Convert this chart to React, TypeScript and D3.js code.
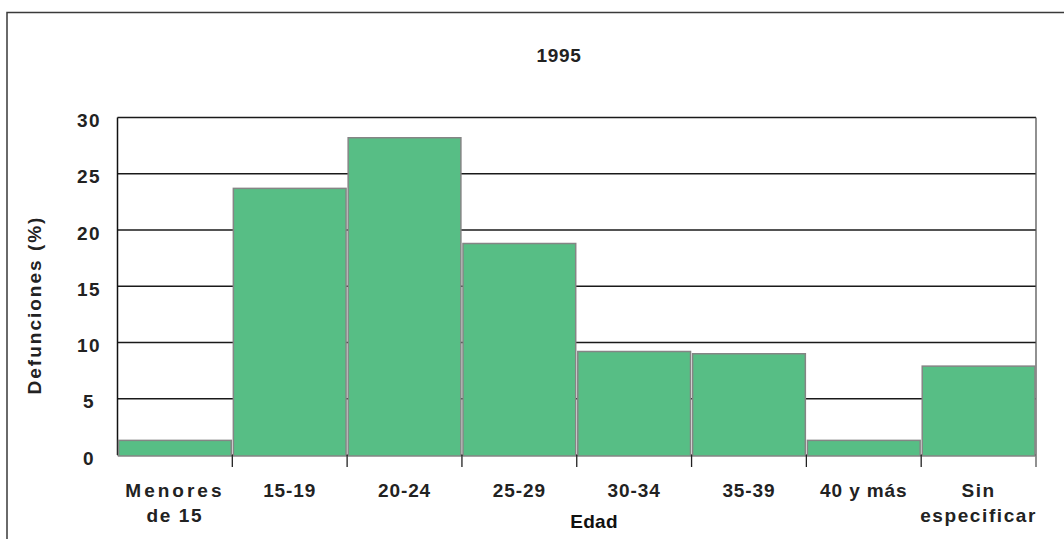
import React from "react";
import * as d3 from "d3";

const categories: string[][] = [
  ["Menores", "de 15"],
  ["15-19"],
  ["20-24"],
  ["25-29"],
  ["30-34"],
  ["35-39"],
  ["40 y más"],
  ["Sin", "especificar"],
];
const values: number[] = [1.3, 23.7, 28.2, 18.8, 9.2, 9.0, 1.3, 7.9];
const yTicks: number[] = [0, 5, 10, 15, 20, 25, 30];
const title = "1995";
const yTitle = "Defunciones  (%)";
const xTitle = "Edad";

const W = 1064;
const H = 539;
const plot = { left: 117.5, right: 1036, top: 117.5, bottom: 455 };
const FONT = "'Liberation Sans', Arial, Helvetica, sans-serif";
const FS = 19;

export default function App() {
  const idx = categories.map((_, i) => String(i));
  const x = d3
    .scaleBand<string>()
    .domain(idx)
    .range([plot.left, plot.right])
    .paddingInner(0.018)
    .paddingOuter(0.009);
  const step = (plot.right - plot.left) / categories.length;
  const y = d3.scaleLinear().domain([0, 30]).range([plot.bottom, plot.top]);

  const spacingFor = (ln: string) =>
    ln === "Menores" ? 3 : ln === "de 15" ? 1.6 : ln === "especificar" ? 1.6 : ln === "Sin" ? 1.5 : 0.9;

  return (
    <svg
      width={W}
      height={H}
      style={{ position: "absolute", left: 0, top: 0, background: "#fff" }}
      fontFamily={FONT}
    >
      <rect x={0} y={0} width={W} height={H} fill="#fff" />
      {/* outer border */}
      <rect x={7} y={12.5} width={W + 20} height={H + 20} fill="none" stroke="#3a3a3a" strokeWidth={1.5} />

      {/* title */}
      <text x={559} y={62} textAnchor="middle" fontSize={FS} fontWeight="bold" fill="#222" letterSpacing={0.7}>
        {title}
      </text>

      {/* gridlines */}
      {yTicks.map((t) => (
        <line key={"g" + t} x1={plot.left} x2={plot.right} y1={y(t)} y2={y(t)} stroke="#1a1a1a" strokeWidth={1.3} />
      ))}
      {/* plot frame */}
      <line x1={plot.left} x2={plot.left} y1={plot.top} y2={plot.bottom} stroke="#111" strokeWidth={1.5} />
      <line x1={plot.right} x2={plot.right} y1={plot.top} y2={plot.bottom + 12} stroke="#555" strokeWidth={1.3} />

      {/* bars */}
      {values.map((v, i) => (
        <rect
          key={"b" + i}
          x={x(String(i))!}
          y={y(v)}
          width={x.bandwidth()}
          height={y(0) - y(v) + 1}
          fill="#57BE85"
          stroke="#858585"
          strokeWidth={1.5}
        />
      ))}

      {/* x ticks at boundaries */}
      {d3.range(1, categories.length).map((i) => (
        <line
          key={"t" + i}
          x1={plot.left + step * i}
          x2={plot.left + step * i}
          y1={plot.bottom}
          y2={plot.bottom + 12}
          stroke="#222"
          strokeWidth={1.3}
        />
      ))}

      {/* y tick labels */}
      {yTicks.map((t) => (
        <text
          key={"yl" + t}
          x={89}
          y={y(t) + 9.5}
          textAnchor="middle"
          fontSize={FS}
          fontWeight="bold"
          fill="#222"
          letterSpacing={1.5}
        >
          {t}
        </text>
      ))}

      {/* x labels */}
      {categories.map((lines, i) => {
        const cx = x(String(i))! + x.bandwidth() / 2;
        return (
          <text key={"xl" + i} textAnchor="middle" fontSize={FS} fontWeight="bold" fill="#222">
            {lines.map((ln, j) => (
              <tspan key={j} x={cx} y={497 + j * 25} letterSpacing={spacingFor(ln)}>
                {ln}
              </tspan>
            ))}
          </text>
        );
      })}

      {/* axis titles */}
      <text x={594} y={528} textAnchor="middle" fontSize={FS} fontWeight="bold" fill="#111" letterSpacing={0.3}>
        {xTitle}
      </text>
      <text
        transform={`translate(41,305) rotate(-90)`}
        textAnchor="middle"
        fontSize={FS}
        fontWeight="bold"
        fill="#222"
        letterSpacing={2}
      >
        {yTitle}
      </text>
    </svg>
  );
}
